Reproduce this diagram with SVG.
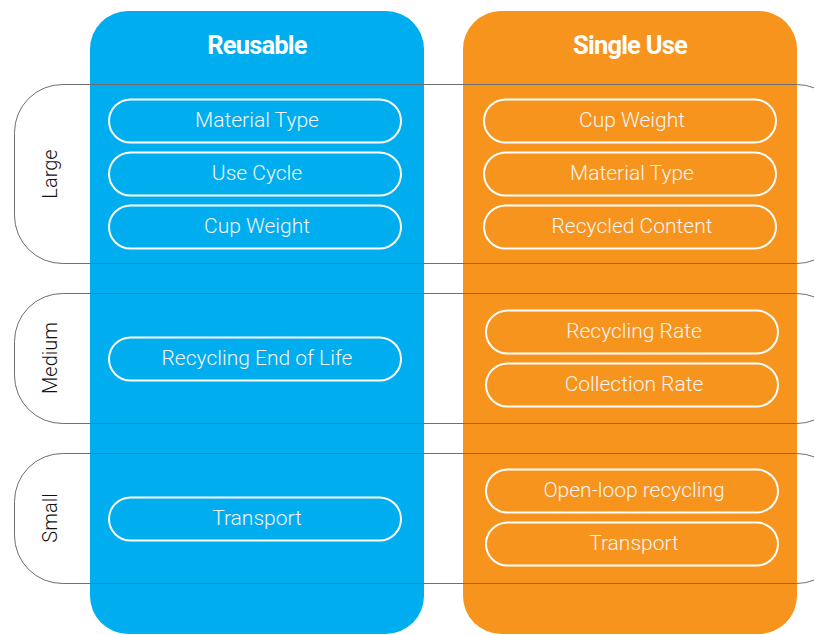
<svg xmlns="http://www.w3.org/2000/svg" width="814" height="635" viewBox="0 0 814 635">
<style>
.col-blue{fill:#00AEEF}
.col-orange{fill:#F7941D}
.band{fill:none;stroke:#6f6f6f;stroke-width:1}
.pill{fill:none;stroke:#fff;stroke-width:2}
.pt{font-family:Roboto,"Liberation Sans",sans-serif;font-weight:300;font-size:21px;fill:#f4f4f4;text-anchor:middle}
.hd{font-family:Roboto,"Liberation Sans",sans-serif;font-weight:700;font-size:25.5px;fill:#fff;text-anchor:middle;letter-spacing:-0.8px}
.rl{font-family:Roboto,"Liberation Sans",sans-serif;font-weight:300;font-size:20px;fill:#111;text-anchor:middle}
</style>
<rect width="814" height="635" fill="#fff"/>
<g id="col-reusable">
<rect class="col-blue" x="90" y="11" width="334" height="623" rx="38"/>
<text class="hd" x="257" y="54">Reusable</text>
</g>
<g id="col-single">
<rect class="col-orange" x="463" y="11" width="334" height="623" rx="38"/>
<text class="hd" x="630" y="54">Single Use</text>
</g>
<g id="row-large">
<rect class="band" x="14.5" y="84.5" width="830" height="179" rx="48"/>
<text class="rl" transform="translate(57,174) rotate(-90)">Large</text>
</g>
<g id="row-medium">
<rect class="band" x="14.5" y="293.5" width="830" height="130" rx="48"/>
<text class="rl" transform="translate(57,358) rotate(-90)">Medium</text>
</g>
<g id="row-small">
<rect class="band" x="14.5" y="453.5" width="830" height="130" rx="48"/>
<text class="rl" transform="translate(57,518) rotate(-90)">Small</text>
</g>
<g id="r-material-type"><rect class="pill" x="109" y="99.5" width="292" height="43" rx="21.5"/><text class="pt" x="257" y="127">Material Type</text></g>
<g id="r-use-cycle"><rect class="pill" x="109" y="152.5" width="292" height="43" rx="21.5"/><text class="pt" x="257" y="180">Use Cycle</text></g>
<g id="r-cup-weight"><rect class="pill" x="109" y="205.5" width="292" height="43" rx="21.5"/><text class="pt" x="257" y="233">Cup Weight</text></g>
<g id="r-recycling-eol"><rect class="pill" x="109" y="337.5" width="292" height="43" rx="21.5"/><text class="pt" x="257" y="365">Recycling End of Life</text></g>
<g id="r-transport"><rect class="pill" x="109" y="497.5" width="292" height="43" rx="21.5"/><text class="pt" x="257" y="525">Transport</text></g>
<g id="s-cup-weight"><rect class="pill" x="484" y="99.5" width="292" height="43" rx="21.5"/><text class="pt" x="632" y="127">Cup Weight</text></g>
<g id="s-material-type"><rect class="pill" x="484" y="152.5" width="292" height="43" rx="21.5"/><text class="pt" x="632" y="180">Material Type</text></g>
<g id="s-recycled-content"><rect class="pill" x="484" y="205.5" width="292" height="43" rx="21.5"/><text class="pt" x="632" y="233">Recycled Content</text></g>
<g id="s-recycling-rate"><rect class="pill" x="486" y="310.5" width="292" height="43" rx="21.5"/><text class="pt" x="634" y="338">Recycling Rate</text></g>
<g id="s-collection-rate"><rect class="pill" x="486" y="363.5" width="292" height="43" rx="21.5"/><text class="pt" x="634" y="391">Collection Rate</text></g>
<g id="s-open-loop"><rect class="pill" x="486" y="469.5" width="292" height="43" rx="21.5"/><text class="pt" x="634" y="497">Open-loop recycling</text></g>
<g id="s-transport"><rect class="pill" x="486" y="522.5" width="292" height="43" rx="21.5"/><text class="pt" x="634" y="550">Transport</text></g>
<g id="connectors"></g>
</svg>
